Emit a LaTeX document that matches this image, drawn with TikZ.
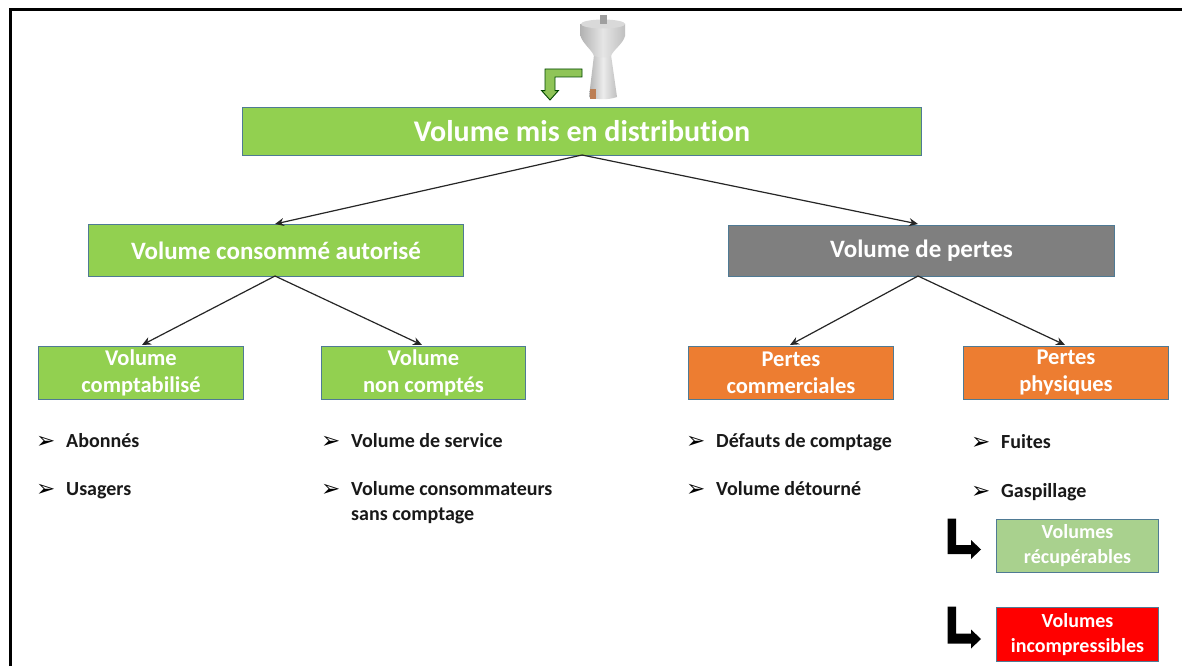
\documentclass[tikz,border=0pt]{standalone}
\usepackage{fontspec}
\setmainfont{Carlito}[Ligatures=NoCommon]
\newfontfamily\dejavu{DejaVu Sans}
\usetikzlibrary{arrows.meta,calc}
\definecolor{vert}{HTML}{92D050}
\definecolor{gris}{HTML}{7F7F7F}
\definecolor{orange2}{HTML}{ED7D31}
\definecolor{vertpale}{HTML}{A9D18E}
\definecolor{bord}{HTML}{4F7A94}
\tikzset{
  boite/.style={draw=bord,line width=1pt,inner sep=0pt,text=white,font=\bfseries,align=center,anchor=north west},
  lien/.style={draw=black!85,line width=1.2pt,-{Stealth[length=9pt,width=8pt]}},
  puce/.style={anchor=base west,inner sep=0pt,font=\dejavu\fontsize{23}{23}\selectfont},
  item/.style={anchor=base west,inner sep=0pt,font=\fontsize{20}{25}\selectfont\bfseries,align=left,text=black!90},
  coude/.style={fill=black,draw=none},
}
\begin{document}
\begin{tikzpicture}[x=1pt,y=-1pt]
\useasboundingbox (0,0) rectangle (1182,666);
\fill[white] (0,0) rectangle (1182,666);
% frame
\coordinate (c1) at (10.5,666);
\coordinate (c2) at (10.5,9.5);
\coordinate (c3) at (1182,9.5);
\draw[line width=3pt,black] (c1) -- (c2) -- (c3);
% tank
\shade[left color=gray!60,right color=gray!50,middle color=gray!15] (594,55) -- (589,97) .. controls (598,100) and (608,100) .. (617,97) -- (611,55) -- cycle;
\shade[left color=gray!60,right color=gray!50,middle color=gray!20] (580.5,24) -- (580.5,36) .. controls (583,44) and (592,50) .. (594,56) .. controls (600,58) and (606,58) .. (611,56) .. controls (613,50) and (623,44) .. (625,36) -- (625,24) -- cycle;
\fill[gray!30] (603,24) ellipse (22 and 4.5);
\fill[gray!75] (599.5,15) rectangle (606.5,24);
\fill[orange2!55!gray] (589.5,89) rectangle (595.5,99);
% bent green arrow
\filldraw[fill=vert!85!gray,draw=black!60!green!70!black,line width=0.9pt] (582,69) -- (545,69) -- (545,90.7) -- (541.7,90.7) -- (550,100) -- (558.3,90.7) -- (555,90.7) -- (555,77) -- (582,77) -- cycle;
% boxes
\node[boite,fill=vert,minimum width=679pt,minimum height=48pt,font=\fontsize{30}{34}\selectfont\bfseries] (main) at (242,107) {Volume mis en distribution};
\node[boite,fill=vert,minimum width=375pt,minimum height=52pt,font=\fontsize{25}{30}\selectfont\bfseries] (auto) at (88,224) {Volume consommé autorisé};
\node[boite,fill=gris,minimum width=386pt,minimum height=51pt,font=\fontsize{25}{30}\selectfont\bfseries] (pertes) at (728,224.5) {Volume de pertes};
\node[boite,fill=vert,minimum width=205pt,minimum height=53pt,font=\fontsize{22.5}{27}\selectfont\bfseries] (compta) at (38,345.5) {Volume\\comptabilisé};
\node[boite,fill=vert,minimum width=204pt,minimum height=53pt,font=\fontsize{22.5}{27}\selectfont\bfseries] (noncomp) at (321,345.5) {Volume\\non comptés};
\node[boite,fill=orange2,minimum width=205pt,minimum height=53pt,font=\fontsize{22.5}{27}\selectfont\bfseries] (comm) at (688,345.5) {Pertes\\commerciales};
\node[boite,fill=orange2,minimum width=205pt,minimum height=53pt,font=\fontsize{22.5}{27}\selectfont\bfseries] (phys) at (963,345.5) {Pertes\\physiques};
\node[boite,fill=vertpale,minimum width=162pt,minimum height=53pt,font=\fontsize{20}{25}\selectfont\bfseries] (recup) at (996,519) {Volumes\\récupérables};
\node[boite,fill=red,minimum width=162pt,minimum height=54pt,font=\fontsize{20}{25}\selectfont\bfseries] (incomp) at (996,607) {Volumes\\incompressibles};
% connectors
\coordinate (mb) at (582,155);
\coordinate (ab) at (275,276);
\coordinate (pb) at (918,276);
\coordinate (at) at (275,224);
\coordinate (pt) at (918,224);
\coordinate (t1) at (142,345);
\coordinate (t2) at (422,345);
\coordinate (t3) at (790,345);
\coordinate (t4) at (1065,345);
\draw[lien] (mb) -- (at);
\draw[lien] (mb) -- (pt);
\draw[lien] (ab) -- (t1);
\draw[lien] (ab) -- (t2);
\draw[lien] (pb) -- (t3);
\draw[lien] (pb) -- (t4);
% lists
\node[puce] (p1) at (36,448) {➢};
\node[item] (i1) at (66,447) {Abonnés};
\node[puce] (p2) at (36,496) {➢};
\node[item] (i2) at (66,495) {Usagers};
\node[puce] (p3) at (321,448) {➢};
\node[item] (i3) at (351,447) {Volume de service};
\node[puce] (p4) at (321,496) {➢};
\node[item] (i4) at (351,520) {Volume consommateurs\\sans comptage};
\node[puce] (p5) at (686,448) {➢};
\node[item] (i5) at (716,447) {Défauts de comptage};
\node[puce] (p6) at (686,496) {➢};
\node[item] (i6) at (716,495) {Volume détourné};
\node[puce] (p7) at (971,449) {➢};
\node[item] (i7) at (1001,448) {Fuites};
\node[puce] (p8) at (971,498) {➢};
\node[item] (i8) at (1001,497) {Gaspillage};
% L arrows
\fill[coude] (947.5,518.5) -- (956,518.5) -- (956,545) -- (971,545) -- (971,540) -- (981,549.5) -- (971,559) -- (971,554) -- (947.5,554) -- cycle;
\fill[coude] (947.5,606.5) -- (956,606.5) -- (956,633.5) -- (971,633.5) -- (971,629.5) -- (981,639) -- (971,648.5) -- (971,643.5) -- (947.5,643.5) -- cycle;
\end{tikzpicture}
\end{document}
